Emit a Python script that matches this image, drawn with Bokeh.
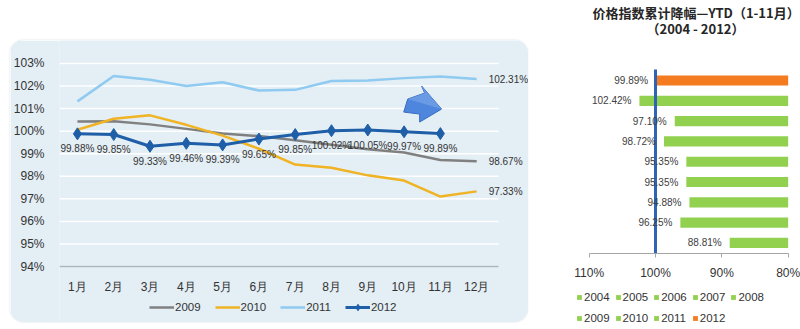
from bokeh.plotting import figure
from bokeh.layouts import row, column
from bokeh.models import (ColumnDataSource, Range1d, FixedTicker, LabelSet, Legend,
                          LegendItem, Spacer)
from bokeh.core.properties import value
from bokeh.embed import file_html
from bokeh.resources import INLINE

# ---------------- data (left chart) ----------------
months = ["1月", "2月", "3月", "4月", "5月", "6月", "7月", "8月", "9月", "10月", "11月", "12月"]
month_pos = [1, 2, 3, 4, 5, 6, 7, 8, 9, 10, 11, 12]
s2009 = [100.43, 100.44, 100.30, 100.10, 99.90, 99.78, 99.60, 99.40, 99.20, 99.05, 98.72, 98.67]
s2010 = [100.06, 100.55, 100.70, 100.28, 99.80, 99.22, 98.52, 98.38, 98.04, 97.81, 97.10, 97.33]
s2011 = [101.32, 102.44, 102.28, 102.00, 102.17, 101.80, 101.83, 102.22, 102.25, 102.35, 102.42, 102.31]
s2012 = [99.88, 99.85, 99.33, 99.46, 99.39, 99.65, 99.85, 100.02, 100.05, 99.97, 99.89]
pct_ticks = [94, 95, 96, 97, 98, 99, 100, 101, 102, 103]

# ---------------- data (right chart) ----------------
years = ["2004", "2005", "2006", "2007", "2008", "2009", "2010", "2011", "2012"]
ytd = [88.81, 96.25, 94.88, 95.35, 95.35, 98.72, 97.10, 102.42, 99.89]
bar_ticks = [110, 100, 90, 80]
title_lines = ["价格指数累计降幅—YTD（1-11月）", "（2004 - 2012）"]

FONT = "Liberation Sans"
CJK = "Noto Sans CJK SC"
PANEL = "#e3eef5"
TXT = "#333333"

# ================= left chart =================
# layout: frame from x=47..518, y=0..282 inside a 518x282 canvas
L_W, L_H, L_LEFT = 518, 282, 47
PX_PER_MONTH, PX_PER_PCT = 36.45, 22.56
X0 = 1 - 18 / PX_PER_MONTH
X1 = X0 + (L_W - L_LEFT) / PX_PER_MONTH
X_GRID_END = X0 + 441 / PX_PER_MONTH
Y_BOTTOM = 94 - 56 / PX_PER_PCT
Y_TOP = 94 + 226 / PX_PER_PCT

p = figure(width=L_W, height=L_H,
           x_range=Range1d(X0, X1), y_range=Range1d(Y_BOTTOM, Y_TOP),
           output_backend="svg", toolbar_location=None,
           min_border_left=L_LEFT, min_border_right=0, min_border_top=0, min_border_bottom=0,
           background_fill_color=PANEL, border_fill_color=PANEL, outline_line_color=None,
           styles={"border-radius": "14px", "overflow": "hidden",
                   "box-shadow": "0 0 2px rgba(120,140,160,0.35)"})
p.title = None
p.grid.visible = False

# horizontal gridlines
p.segment(x0=[X0] * len(pct_ticks), x1=[X_GRID_END] * len(pct_ticks),
          y0=pct_ticks, y1=pct_ticks, line_color="white", line_width=1.5)

p.yaxis.ticker = FixedTicker(ticks=pct_ticks)
p.yaxis.major_label_overrides = {t: f"{t}%" for t in pct_ticks}
p.yaxis.axis_line_color = None
p.yaxis.major_tick_line_color = None
p.yaxis.minor_tick_line_color = None
p.yaxis.major_label_standoff = 9
p.yaxis.major_label_text_font = FONT
p.yaxis.major_label_text_font_size = "12px"
p.yaxis.major_label_text_color = TXT

p.xaxis.fixed_location = 94
p.xaxis.ticker = FixedTicker(ticks=month_pos)
p.xaxis.major_label_overrides = {i: lab for i, lab in zip(month_pos, months)}
p.xaxis.bounds = (X0, X_GRID_END)
p.xaxis.axis_line_color = "#a9b6c0"
p.xaxis.axis_line_width = 1.5
p.xaxis.major_tick_line_color = None
p.xaxis.minor_tick_line_color = None
p.xaxis.major_label_standoff = 7
p.xaxis.major_label_text_font = FONT
p.xaxis.major_label_text_font_size = "12px"
p.xaxis.major_label_text_color = TXT

r09 = p.line(month_pos, s2009, line_color="#808080", line_width=2.5)
r10 = p.line(month_pos, s2010, line_color="#f0b323", line_width=2.5)
r11 = p.line(month_pos, s2011, line_color="#8fcaf0", line_width=2.5)
m12 = month_pos[:len(s2012)]
r12 = p.line(m12, s2012, line_color="#1f5fa8", line_width=3)
r12m = p.scatter(m12, s2012, marker="diamond", size=12, fill_color="#1f5fa8",
                 line_color="#1f5fa8")

# decorative arrow (pixel shape placed near Oct/Nov, above the 2012 line)
ax0, ay0 = 10.10, 101.20
arrow_px = [(0, -5), (17, -11), (14, -18), (34, 5), (12, 18), (12, 10), (-4, 8)]
p.patch([ax0 + dx / PX_PER_MONTH for dx, dy in arrow_px],
        [ay0 - dy / PX_PER_PCT for dx, dy in arrow_px],
        fill_color="#4d86dc", line_color="#3a6cc0", line_width=1)
p.patch([ax0 + dx / PX_PER_MONTH for dx, dy in arrow_px[:3] + [(34, 5)]],
        [ay0 - dy / PX_PER_PCT for dx, dy in arrow_px[:3] + [(34, 5)]],
        fill_color="#7fa9ea", line_color=None, fill_alpha=0.6)

lab12 = ColumnDataSource(dict(x=m12, y=s2012, t=[f"{v:.2f}%" for v in s2012]))
p.add_layout(LabelSet(x="x", y="y", text="t", source=lab12, y_offset=-15,
                      text_align="center", text_baseline="middle",
                      text_font=value(FONT), text_font_size=value("10px"),
                      text_color=TXT))

end_src = ColumnDataSource(dict(x=[12, 12, 12],
                                y=[s2011[-1], s2009[-1], s2010[-1]],
                                t=[f"{s2011[-1]:.2f}%", f"{s2009[-1]:.2f}%", f"{s2010[-1]:.2f}%"]))
p.add_layout(LabelSet(x="x", y="y", text="t", source=end_src, x_offset=12,
                      text_align="left", text_baseline="middle",
                      text_font=value(FONT), text_font_size=value("10px"),
                      text_color=TXT))

leg = Legend(items=[LegendItem(label="2009", renderers=[r09]),
                    LegendItem(label="2010", renderers=[r10]),
                    LegendItem(label="2011", renderers=[r11]),
                    LegendItem(label="2012", renderers=[r12, r12m])],
             orientation="horizontal", location=(90, 7),
             background_fill_alpha=0, border_line_color=None,
             label_text_font=FONT, label_text_font_size="11.5px", label_text_color=TXT,
             glyph_width=25, glyph_height=16, label_height=16, label_standoff=1,
             spacing=14, padding=0, margin=0)
p.add_layout(leg, "center")

# ================= right chart =================
# layout: frame covers the whole 272x329 canvas (x 528..800 of the page)
R_W, R_H = 272, 329
PX_PER_10PCT, BAR_PITCH = 66.33, 20.3
AXIS_PX_X100 = 655 - 528          # pixel column of 100% inside this canvas
AXIS_PX_Y = 253                   # pixel row of the category axis
TOP_BAR_PX = 80                   # pixel row of the top bar centre


def rx(px):
    return 100 - (px - AXIS_PX_X100) * 10 / PX_PER_10PCT


def ry(py):
    return (len(years) - 1) + (TOP_BAR_PX - py) / BAR_PITCH


bar_colors = ["#f47b20" if y == "2012" else "#92d050" for y in years]
src2 = ColumnDataSource(dict(y=list(range(len(years))), left=ytd, year=years,
                             color=bar_colors, t=[f"{v:.2f}%" for v in ytd]))

p2 = figure(width=R_W, height=R_H,
            x_range=Range1d(rx(0), rx(R_W)), y_range=Range1d(ry(R_H), ry(0)),
            output_backend="svg", toolbar_location=None,
            min_border_left=0, min_border_right=0, min_border_top=0, min_border_bottom=0,
            outline_line_color=None, background_fill_color="white", border_fill_color="white")
p2.title = None
p2.grid.visible = False
p2.yaxis.visible = False

p2.hbar(y="y", left="left", right=min(bar_ticks), height=0.5, fill_color="color",
        line_color=None, source=src2, legend_field="year")

p2.xaxis.fixed_location = ry(AXIS_PX_Y)
p2.xaxis.bounds = (min(bar_ticks), max(bar_ticks))
p2.xaxis.ticker = FixedTicker(ticks=bar_ticks)
p2.xaxis.major_label_overrides = {t: f"{t}%" for t in bar_ticks}
p2.xaxis.axis_line_color = "#a6a6a6"
p2.xaxis.major_tick_line_color = "#a6a6a6"
p2.xaxis.major_tick_out = 4
p2.xaxis.major_tick_in = 0
p2.xaxis.minor_tick_line_color = None
p2.xaxis.major_label_standoff = 8
p2.xaxis.major_label_text_font = FONT
p2.xaxis.major_label_text_font_size = "12px"
p2.xaxis.major_label_text_color = TXT

p2.add_layout(LabelSet(x="left", y="y", text="t", source=src2, x_offset=-8,
                       text_align="right", text_baseline="middle",
                       text_font=value(FONT), text_font_size=value("10px"),
                       text_color="#404040"))
# the 100% reference line
p2.segment(x0=[100], x1=[100], y0=[ry(AXIS_PX_Y)], y1=[ry(69)],
           line_color="#2e64b4", line_width=3)

# chart title (two centred lines)
p2.text(x=[rx(167), rx(167)], y=[ry(12), ry(28)], text=title_lines,
        text_align="center", text_baseline="middle",
        text_font=value(CJK), text_font_size="13px", text_font_style="bold",
        text_color="#262626")

lg2 = p2.legend[0]
lg2.location = (576 - 528, 3)
lg2.ncols = 5
lg2.orientation = "horizontal"
lg2.background_fill_alpha = 0
lg2.border_line_color = None
lg2.label_text_font = FONT
lg2.label_text_font_size = "11.5px"
lg2.label_text_color = TXT
lg2.glyph_width = 6
lg2.glyph_height = 6
lg2.label_height = 16
lg2.label_standoff = 2
lg2.spacing = 5
lg2.padding = 0
lg2.margin = 0

left_block = column(Spacer(height=40), row(Spacer(width=10), p), Spacer(height=7))
layout = row(left_block, p2)
open("out.html", "w").write(file_html(layout, INLINE))
